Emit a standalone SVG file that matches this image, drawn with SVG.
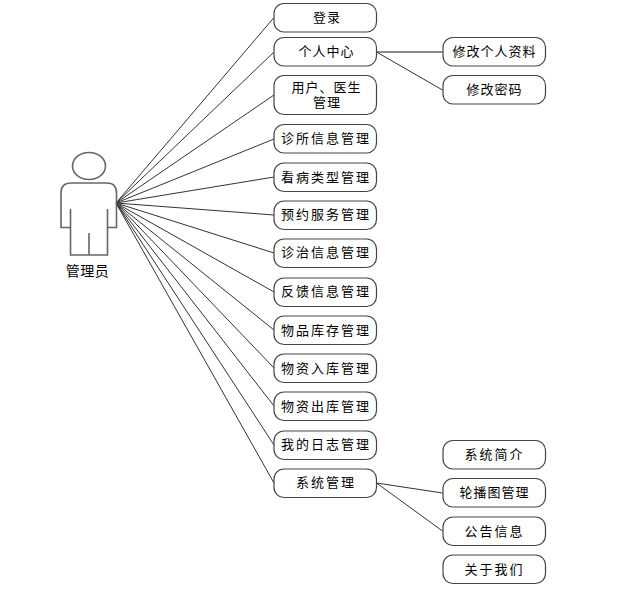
<svg xmlns="http://www.w3.org/2000/svg" width="635" height="600" viewBox="0 0 635 600">
<style>
.b{fill:#fff;stroke:#444;stroke-width:1.2}
.t{font-family:"Liberation Sans","Noto Sans CJK SC",sans-serif;font-size:13px;letter-spacing:2px;fill:#000;text-anchor:middle}
.n{letter-spacing:1px}
.c{fill:none;stroke:#333;stroke-width:1}
.a{fill:none;stroke:#666;stroke-width:1.6}
</style>
<rect width="635" height="600" fill="#fff"/>
<g id="connectors">
<path class="c" d="M116 203L274 17.500M116 203L274 52M116 203L274 95M116 203L274 139M116 203L274 177M116 203L274 215M116 203L274 253M116 203L274 292M116 203L274 330M116 203L274 368M116 203L274 406M116 203L274 445M116 203L274 483"/>
<path class="a" d="M376.500 52H442.500"/>
<path class="c" d="M376.500 52L442.500 90M376.500 483L442.500 493M376.500 483L442.500 531"/>
</g>
<g id="actor">
<ellipse class="a" cx="89" cy="166" rx="16.500" ry="13.500"/>
<path class="a" d="M70.500 209V227.500H61V193Q61 183 71 183H107Q116.500 183 116.500 193V227.500H107.500V209M70.500 227.500V255H107.500V227.500M89 233V255"/>
<text class="t" x="87.500" y="276" style="letter-spacing:0.500px;font-size:14px">管理员</text>
</g>
<g id="n1"><rect class="b" x="274" y="3.500" width="102.500" height="28.500" rx="10"/><text class="t n" x="327" y="22">登录</text></g>
<g id="n2"><rect class="b" x="274" y="37.500" width="102.500" height="28.500" rx="10"/><text class="t n" x="326.500" y="56">个人中心</text></g>
<g id="n3"><rect class="b" x="274" y="75.500" width="102.500" height="39" rx="10"/><text class="t n" x="326.500" y="92">用户、医生</text><text class="t n" x="327" y="107">管理</text></g>
<g id="n4"><rect class="b" x="274" y="124.500" width="102.500" height="28.500" rx="10"/><text class="t" x="326" y="143">诊所信息管理</text></g>
<g id="n5"><rect class="b" x="274" y="163" width="102.500" height="28.500" rx="10"/><text class="t" x="326" y="181.500">看病类型管理</text></g>
<g id="n6"><rect class="b" x="274" y="201" width="102.500" height="28.500" rx="10"/><text class="t" x="326" y="219">预约服务管理</text></g>
<g id="n7"><rect class="b" x="274" y="239" width="102.500" height="28.500" rx="10"/><text class="t" x="326" y="257">诊治信息管理</text></g>
<g id="n8"><rect class="b" x="274" y="278" width="102.500" height="28.500" rx="10"/><text class="t" x="326" y="296">反馈信息管理</text></g>
<g id="n9"><rect class="b" x="274" y="316" width="102.500" height="28.500" rx="10"/><text class="t" x="326" y="334.500">物品库存管理</text></g>
<g id="n10"><rect class="b" x="274" y="354" width="102.500" height="28.500" rx="10"/><text class="t" x="326" y="372.500">物资入库管理</text></g>
<g id="n11"><rect class="b" x="274" y="392" width="102.500" height="28.500" rx="10"/><text class="t" x="326" y="410.500">物资出库管理</text></g>
<g id="n12"><rect class="b" x="274" y="431" width="102.500" height="28.500" rx="10"/><text class="t" x="326" y="449">我的日志管理</text></g>
<g id="n13"><rect class="b" x="274" y="469" width="102.500" height="28.500" rx="10"/><text class="t" x="326" y="486.500">系统管理</text></g>
<g id="n14"><rect class="b" x="443" y="37.500" width="102.500" height="28.500" rx="10"/><text class="t n" x="494.500" y="56">修改个人资料</text></g>
<g id="n15"><rect class="b" x="443" y="75.500" width="102.500" height="28.500" rx="10"/><text class="t n" x="494.500" y="94">修改密码</text></g>
<g id="n16"><rect class="b" x="443" y="440.500" width="102.500" height="28.500" rx="10"/><text class="t" x="494.500" y="459">系统简介</text></g>
<g id="n17"><rect class="b" x="443" y="478.500" width="102.500" height="28.500" rx="10"/><text class="t n" x="494.500" y="497">轮播图管理</text></g>
<g id="n18"><rect class="b" x="443" y="517" width="102.500" height="28.500" rx="10"/><text class="t" x="494.500" y="535.500">公告信息</text></g>
<g id="n19"><rect class="b" x="443" y="555" width="102.500" height="28.500" rx="10"/><text class="t" x="494.500" y="573.500">关于我们</text></g>
</svg>
